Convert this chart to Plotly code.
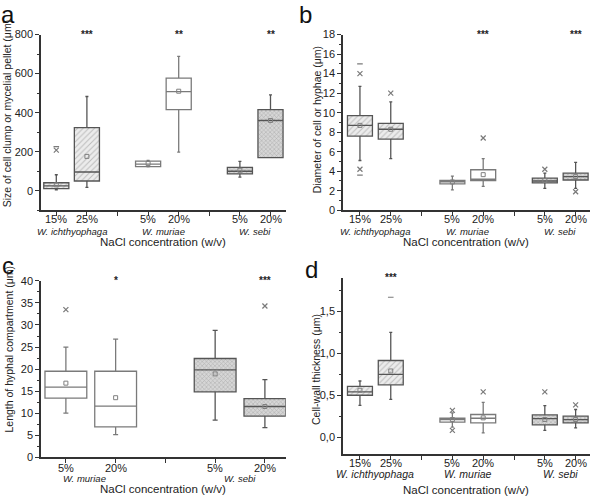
import plotly.graph_objects as go

FONT = "Arial, 'Liberation Sans', sans-serif"

# ---------------- data ----------------
# Panel a: size of cell clump or mycelial pellet (um)
a_pos = [1, 2, 4, 5, 7, 8]
a_labels = ["15%", "25%", "5%", "20%", "5%", "20%"]
a_species = ["ich", "ich", "mur", "mur", "seb", "seb"]
a_low = [5, 17, 122, 198, 70, 170]
a_q1 = [11, 50, 124, 416, 86, 170]
a_med = [25, 96, 136, 508, 100, 360]
a_q3 = [41, 323, 152, 577, 120, 416]
a_high = [82, 483, 155, 688, 150, 491]
a_mean = [30, 176, 140, 510, 105, 360]
a_out_pos = [1, 1]
a_out_val = [208, 226]
a_out_sym = ["x", "-"]

# Panel b: diameter of cell or hyphae (um)
b_pos = [1, 2, 4, 5, 7, 8]
b_labels = ["15%", "25%", "5%", "20%", "5%", "20%"]
b_species = ["ich", "ich", "mur", "mur", "seb", "seb"]
b_low = [5.1, 5.3, 2.1, 2.45, 2.25, 2.25]
b_q1 = [7.6, 7.3, 2.7, 3.05, 2.8, 3.1]
b_med = [8.7, 8.3, 2.9, 3.2, 3.0, 3.45]
b_q3 = [9.7, 8.9, 3.05, 4.15, 3.3, 3.8]
b_high = [12.7, 11.1, 3.5, 5.3, 3.8, 4.9]
b_mean = [8.7, 8.3, 2.9, 3.65, 3.05, 3.45]
b_out_pos = [1, 1, 1, 1, 2, 5, 7, 8]
b_out_val = [14.0, 15.0, 4.2, 3.6, 12.0, 7.4, 4.2, 1.9]
b_out_sym = ["x", "-", "x", "-", "x", "x", "x", "x"]

# Panel c: length of hyphal compartment (um)
c_pos = [1, 2, 4, 5]
c_labels = ["5%", "20%", "5%", "20%"]
c_species = ["mur", "mur", "seb", "seb"]
c_low = [10.0, 5.1, 8.4, 6.7]
c_q1 = [13.4, 6.9, 14.8, 9.3]
c_med = [15.9, 11.6, 19.8, 11.5]
c_q3 = [19.5, 19.5, 22.4, 13.3]
c_high = [25.0, 26.8, 28.8, 17.6]
c_mean = [16.8, 13.5, 18.9, 11.5]
c_out_pos = [1, 5]
c_out_val = [33.5, 34.3]
c_out_sym = ["x", "x"]

# Panel d: cell-wall thickness (um)
d_pos = [1, 2, 4, 5, 7, 8]
d_labels = ["15%", "25%", "5%", "20%", "5%", "20%"]
d_species = ["ich", "ich", "mur", "mur", "seb", "seb"]
d_low = [0.38, 0.45, 0.12, 0.05, 0.08, 0.11]
d_q1 = [0.50, 0.625, 0.18, 0.17, 0.145, 0.17]
d_med = [0.54, 0.75, 0.21, 0.225, 0.22, 0.21]
d_q3 = [0.605, 0.915, 0.225, 0.27, 0.265, 0.25]
d_high = [0.67, 1.25, 0.29, 0.415, 0.375, 0.33]
d_mean = [0.56, 0.79, 0.21, 0.23, 0.21, 0.21]
d_out_pos = [2, 4, 4, 5, 7, 8]
d_out_val = [1.67, 0.32, 0.08, 0.54, 0.54, 0.385]
d_out_sym = ["-", "x", "x", "x", "x", "x"]

species_names = {"ich": "W. ichthyophaga", "mur": "W. muriae", "seb": "W. sebi"}

# ---------------- styling ----------------
STYLE = {
    "ich": dict(bg="#ececec", fg="#8c8c8c", shape="/", size=4, solidity=0.25, line="#555555"),
    "mur": dict(bg="#ffffff", fg="#ffffff", shape="", size=4, solidity=0.2, line="#7a7a7a"),
    "seb": dict(bg="#d6d6d6", fg="#8a8a8a", shape="x", size=3, solidity=0.35, line="#555555"),
}

fig = go.Figure()


def add_panel(ax, pos, species, low, q1, med, q3, high, mean, opos, oval, osym, width):
    xa, ya = ("x" + ax, "y" + ax) if ax else ("x", "y")
    for sp in ["ich", "mur", "seb"]:
        idx = [i for i, s in enumerate(species) if s == sp]
        if not idx:
            continue
        st = STYLE[sp]
        px = [pos[i] for i in idx]
        fig.add_trace(go.Bar(
            x=px, y=[q3[i] - q1[i] for i in idx], base=[q1[i] for i in idx],
            width=width, xaxis=xa, yaxis=ya, showlegend=False, hoverinfo="skip",
            marker=dict(color=st["bg"], line=dict(width=0),
                        pattern=dict(shape=st["shape"], fgcolor=st["fg"], bgcolor=st["bg"],
                                     size=st["size"], solidity=st["solidity"]))))
        fig.add_trace(go.Box(
            x=px, q1=[q1[i] for i in idx], median=[med[i] for i in idx], q3=[q3[i] for i in idx],
            lowerfence=[low[i] for i in idx], upperfence=[high[i] for i in idx],
            width=width, whiskerwidth=0.12, fillcolor="rgba(0,0,0,0)",
            line=dict(color=st["line"], width=1.3), boxpoints=False,
            xaxis=xa, yaxis=ya, showlegend=False))
        fig.add_trace(go.Scatter(
            x=px, y=[mean[i] for i in idx], mode="markers", xaxis=xa, yaxis=ya,
            showlegend=False, marker=dict(symbol="square-open", size=4,
                                          color="#808080", line=dict(width=1))))
    xs = [p for p, s in zip(opos, osym) if s == "x"]
    ys = [v for v, s in zip(oval, osym) if s == "x"]
    fig.add_trace(go.Scatter(x=xs, y=ys, mode="markers", xaxis=xa, yaxis=ya, showlegend=False,
                             marker=dict(symbol="x-thin-open", size=5, color="#7a7a7a",
                                         line=dict(width=1.2, color="#7a7a7a"))))
    xs = [p for p, s in zip(opos, osym) if s == "-"]
    ys = [v for v, s in zip(oval, osym) if s == "-"]
    fig.add_trace(go.Scatter(x=xs, y=ys, mode="markers", xaxis=xa, yaxis=ya, showlegend=False,
                             marker=dict(symbol="line-ew-open", size=4, color="#7a7a7a",
                                         line=dict(width=1.2, color="#7a7a7a"))))


add_panel("", a_pos, a_species, a_low, a_q1, a_med, a_q3, a_high, a_mean,
          a_out_pos, a_out_val, a_out_sym, 0.82)
add_panel("2", b_pos, b_species, b_low, b_q1, b_med, b_q3, b_high, b_mean,
          b_out_pos, b_out_val, b_out_sym, 0.81)
add_panel("3", c_pos, c_species, c_low, c_q1, c_med, c_q3, c_high, c_mean,
          c_out_pos, c_out_val, c_out_sym, 0.84)
add_panel("4", d_pos, d_species, d_low, d_q1, d_med, d_q3, d_high, d_mean,
          d_out_pos, d_out_val, d_out_sym, 0.81)

W, H = 592, 499
AX = "#333333"


def PX(x):
    return x / W


def PY(y):
    return 1 - y / H


def xaxis(dom, rng, pos, seps, anchor):
    vals = list(pos) + list(seps)
    return dict(domain=dom, range=rng, anchor=anchor, tickmode="array", tickvals=vals,
                showticklabels=False, ticks="outside",
                ticklen=4, tickwidth=1.2, tickcolor=AX, showline=True, linecolor=AX,
                linewidth=1.5, showgrid=False, zeroline=False, fixedrange=True)


def yaxis(dom, rng, dtick, minor, anchor, tickvals=None, ticktext=None):
    d = dict(domain=dom, range=rng, anchor=anchor, ticks="outside", ticklen=4, tickwidth=1.2,
             tickcolor=AX, showline=True, linecolor=AX, linewidth=1.5, showgrid=False,
             zeroline=False, fixedrange=True, tickfont=dict(family=FONT, size=11, color="#222"),
             minor=dict(ticks="outside", ticklen=2, dtick=minor, tick0=0, tickcolor=AX,
                        showgrid=False))
    if tickvals is not None:
        d.update(tickmode="array", tickvals=tickvals, ticktext=ticktext)
    else:
        d.update(tick0=0, dtick=dtick)
    return d


xa_dom = [PX(41), PX(285.8)]
xb_dom = [PX(343), PX(589.5)]
ytop_dom = [PY(209.3), PY(29.3)]
yc_dom = [PY(462.3), PY(281.7)]
yd_dom = [PY(458.9), PY(278.7)]

d_tickvals = [0.0, 0.5, 1.0, 1.5]
d_ticktext = ["0,0", "0,5", "1,0", "1,5"]

fig.update_layout(
    width=W, height=H, margin=dict(l=0, r=0, t=0, b=0),
    paper_bgcolor="white", plot_bgcolor="white",
    barmode="overlay", boxmode="overlay",
    font=dict(family=FONT, color="#222"),
    xaxis=xaxis(xa_dom, [0.5, 8.5], a_pos, [3, 6], "y"),
    yaxis=yaxis(ytop_dom, [-100, 800], 200, 100, "x"),
    xaxis2=xaxis(xb_dom, [0.45, 8.45], b_pos, [3, 6], "y2"),
    yaxis2=yaxis(ytop_dom, [0, 18], 2, 1, "x2"),
    xaxis3=xaxis(xa_dom, [0.5, 5.42], c_pos, [3], "y3"),
    yaxis3=yaxis(yc_dom, [0, 40], 5, 2.5, "x3"),
    xaxis4=xaxis(xb_dom, [0.45, 8.45], d_pos, [3, 6], "y4"),
    yaxis4=yaxis(yd_dom, [-0.2, 1.9], 0.5, 0.25, "x4", d_tickvals, d_ticktext),
)

ann = []


def tick_ann(xref, yref, pos, labels, shift):
    for p, t in zip(pos, labels):
        ann.append(dict(x=p, xref=xref, y=0, yref=yref + " domain", yshift=shift,
                        yanchor="middle", showarrow=False, text=t,
                        font=dict(family=FONT, size=11, color="#222")))


def species_ann(xref, yref, pos, species, shift, size=9.5, xoff=None):
    groups = {}
    for p, s in zip(pos, species):
        groups.setdefault(s, []).append(p)
    for s, ps in groups.items():
        x = sum(ps) / len(ps)
        if xoff and s in xoff:
            x += xoff[s]
        ann.append(dict(x=x, xref=xref, y=0, yref=yref + " domain", yshift=shift,
                        yanchor="middle", showarrow=False,
                        text="<i>" + species_names[s] + "</i>",
                        font=dict(family=FONT, size=size, color="#222")))


tick_ann("x", "y", a_pos, a_labels, -9)
tick_ann("x2", "y2", b_pos, b_labels, -9)
tick_ann("x3", "y3", c_pos, c_labels, -10.5)
tick_ann("x4", "y4", d_pos, d_labels, -9.5)

species_ann("x", "y", a_pos, a_species, -21)
species_ann("x2", "y2", b_pos, b_species, -21)
species_ann("x3", "y3", c_pos, c_species, -21, xoff={"mur": -0.12})
species_ann("x4", "y4", d_pos, d_species, -20, size=10.5)

for xr, yr, sh in [("x", "y", -32), ("x2", "y2", -32), ("x3", "y3", -32), ("x4", "y4", -36)]:
    ann.append(dict(x=0.5, xref=xr + " domain", y=0, yref=yr + " domain", yshift=sh,
                    yanchor="middle", showarrow=False, text="NaCl concentration (w/v)",
                    font=dict(family=FONT, size=11.5, color="#222")))

ytitles = [
    ("Size of cell clump or mycelial pellet (\u03bcm)", 7, 110),
    ("Diameter of cell or hyphae (\u03bcm)", 317, 117),
    ("Length of hyphal compartment (\u03bcm)", 9, 352),
    ("Cell-wall thickness (\u03bcm)", 316, 373),
]
for t, x, y in ytitles:
    ann.append(dict(x=PX(x), y=PY(y), xref="paper", yref="paper", textangle=-90,
                    showarrow=False, text=t, xanchor="center", yanchor="middle",
                    font=dict(family=FONT, size=10.5, color="#222")))

for t, x, y in [("a", 8, 9), ("b", 305, 9), ("c", 8, 266), ("d", 312, 270)]:
    ann.append(dict(x=PX(x), y=PY(y), xref="paper", yref="paper", showarrow=False,
                    text=t, xanchor="center", yanchor="middle",
                    font=dict(family=FONT, size=24, color="#111")))

stars = [
    ("x", "y", 2, 800, "***"), ("x", "y", 5, 800, "**"), ("x", "y", 8, 800, "**"),
    ("x2", "y2", 5, 18, "***"), ("x2", "y2", 8, 18, "***"),
    ("x3", "y3", 2, 40, "*"), ("x3", "y3", 5, 40, "***"),
    ("x4", "y4", 2, 1.9, "***"),
]
for xr, yr, x, y, t in stars:
    ann.append(dict(x=x, y=y, xref=xr, yref=yr, showarrow=False, text="<b>" + t + "</b>",
                    yanchor="middle", font=dict(family=FONT, size=10, color="#222")))

fig.update_layout(annotations=ann)
# the page body has a default 8px margin; remove it so the 592x499 figure fills the window
fig.write_html("out.html", config={"displayModeBar": False},
               post_script="document.body.style.margin='0';document.body.style.overflow='hidden';")
